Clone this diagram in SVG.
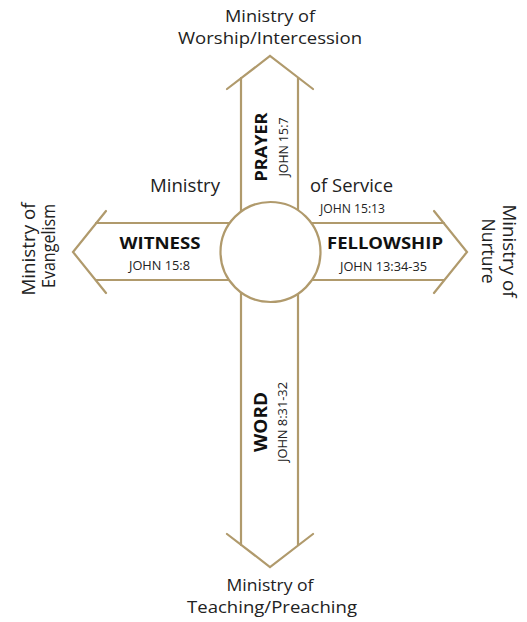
<svg xmlns="http://www.w3.org/2000/svg" width="527" height="622" viewBox="0 0 527 622">
<defs>
<style>
.ln{fill:none;stroke:#b09a6c;stroke-width:2.2;stroke-linecap:round;stroke-linejoin:miter}
.m{font-family:"Open Sans","Liberation Sans",sans-serif;font-size:18px;fill:#222}
.b{font-family:"Open Sans","Liberation Sans",sans-serif;font-size:15.5px;font-weight:bold;fill:#111}
.j{font-family:"Open Sans","Liberation Sans",sans-serif;font-size:12.5px;fill:#222}
.c{text-anchor:middle}
</style>
</defs>
<rect width="527" height="622" fill="#fff"/>
<g id="connectors">
<line class="ln" x1="241" y1="78" x2="241" y2="545"/>
<line class="ln" x1="298" y1="78" x2="298" y2="545"/>
<line class="ln" x1="96" y1="223" x2="444" y2="223"/>
<line class="ln" x1="96" y1="280" x2="444" y2="280"/>
<polyline class="ln" points="227,89 270,56 313,89"/>
<polyline class="ln" points="227,534 270,567 313,534"/>
<polyline class="ln" points="106,211 73,252 106,293"/>
<polyline class="ln" points="434,211 467,252 434,293"/>
</g>
<g id="center">
<circle cx="270.5" cy="252" r="50" fill="#fff" stroke="#b09a6c" stroke-width="2.2"/>
</g>
<g id="top">
<text class="m c" x="270" y="22" style="font-size:17px" textLength="90" lengthAdjust="spacingAndGlyphs">Ministry of</text>
<text class="m c" x="270" y="44" style="font-size:17px" textLength="184" lengthAdjust="spacingAndGlyphs">Worship/Intercession</text>
</g>
<g id="bottom">
<text class="m c" x="270" y="591" style="font-size:17px" textLength="87" lengthAdjust="spacingAndGlyphs">Ministry of</text>
<text class="m c" x="272" y="613" style="font-size:17px" textLength="170" lengthAdjust="spacingAndGlyphs">Teaching/Preaching</text>
</g>
<g id="left">
<text class="m c" transform="translate(35,249) rotate(-90)" textLength="93" lengthAdjust="spacingAndGlyphs">Ministry of</text>
<text class="m c" transform="translate(55,246) rotate(-90)" textLength="84" lengthAdjust="spacingAndGlyphs">Evangelism</text>
</g>
<g id="right">
<text class="m c" transform="translate(503,251) rotate(90)" textLength="93" lengthAdjust="spacingAndGlyphs">Ministry of</text>
<text class="m c" transform="translate(482,251) rotate(90)" textLength="65" lengthAdjust="spacingAndGlyphs">Nurture</text>
</g>
<g id="service">
<text class="m" x="220" y="192" text-anchor="end" textLength="70" lengthAdjust="spacingAndGlyphs">Ministry</text>
<text class="m" x="310" y="192" textLength="83" lengthAdjust="spacingAndGlyphs">of Service</text>
<text class="j" x="320" y="213" textLength="65" lengthAdjust="spacingAndGlyphs">JOHN 15:13</text>
</g>
<g id="prayer">
<text class="b c" transform="translate(267,147) rotate(-90)" textLength="69" lengthAdjust="spacingAndGlyphs">PRAYER</text>
<text class="j c" transform="translate(288,147) rotate(-90)" textLength="59" lengthAdjust="spacingAndGlyphs">JOHN 15:7</text>
</g>
<g id="witness">
<text class="b c" x="160" y="248.5" textLength="81" lengthAdjust="spacingAndGlyphs">WITNESS</text>
<text class="j c" x="159.5" y="270" textLength="61" lengthAdjust="spacingAndGlyphs">JOHN 15:8</text>
</g>
<g id="fellowship">
<text class="b c" x="385" y="249" textLength="116" lengthAdjust="spacingAndGlyphs">FELLOWSHIP</text>
<text class="j c" x="383.5" y="271" textLength="87" lengthAdjust="spacingAndGlyphs">JOHN 13:34-35</text>
</g>
<g id="word">
<text class="b c" transform="translate(267,422) rotate(-90)" style="font-size:18px" textLength="60" lengthAdjust="spacingAndGlyphs">WORD</text>
<text class="j c" transform="translate(287,422) rotate(-90)" textLength="80" lengthAdjust="spacingAndGlyphs">JOHN 8:31-32</text>
</g>
</svg>
